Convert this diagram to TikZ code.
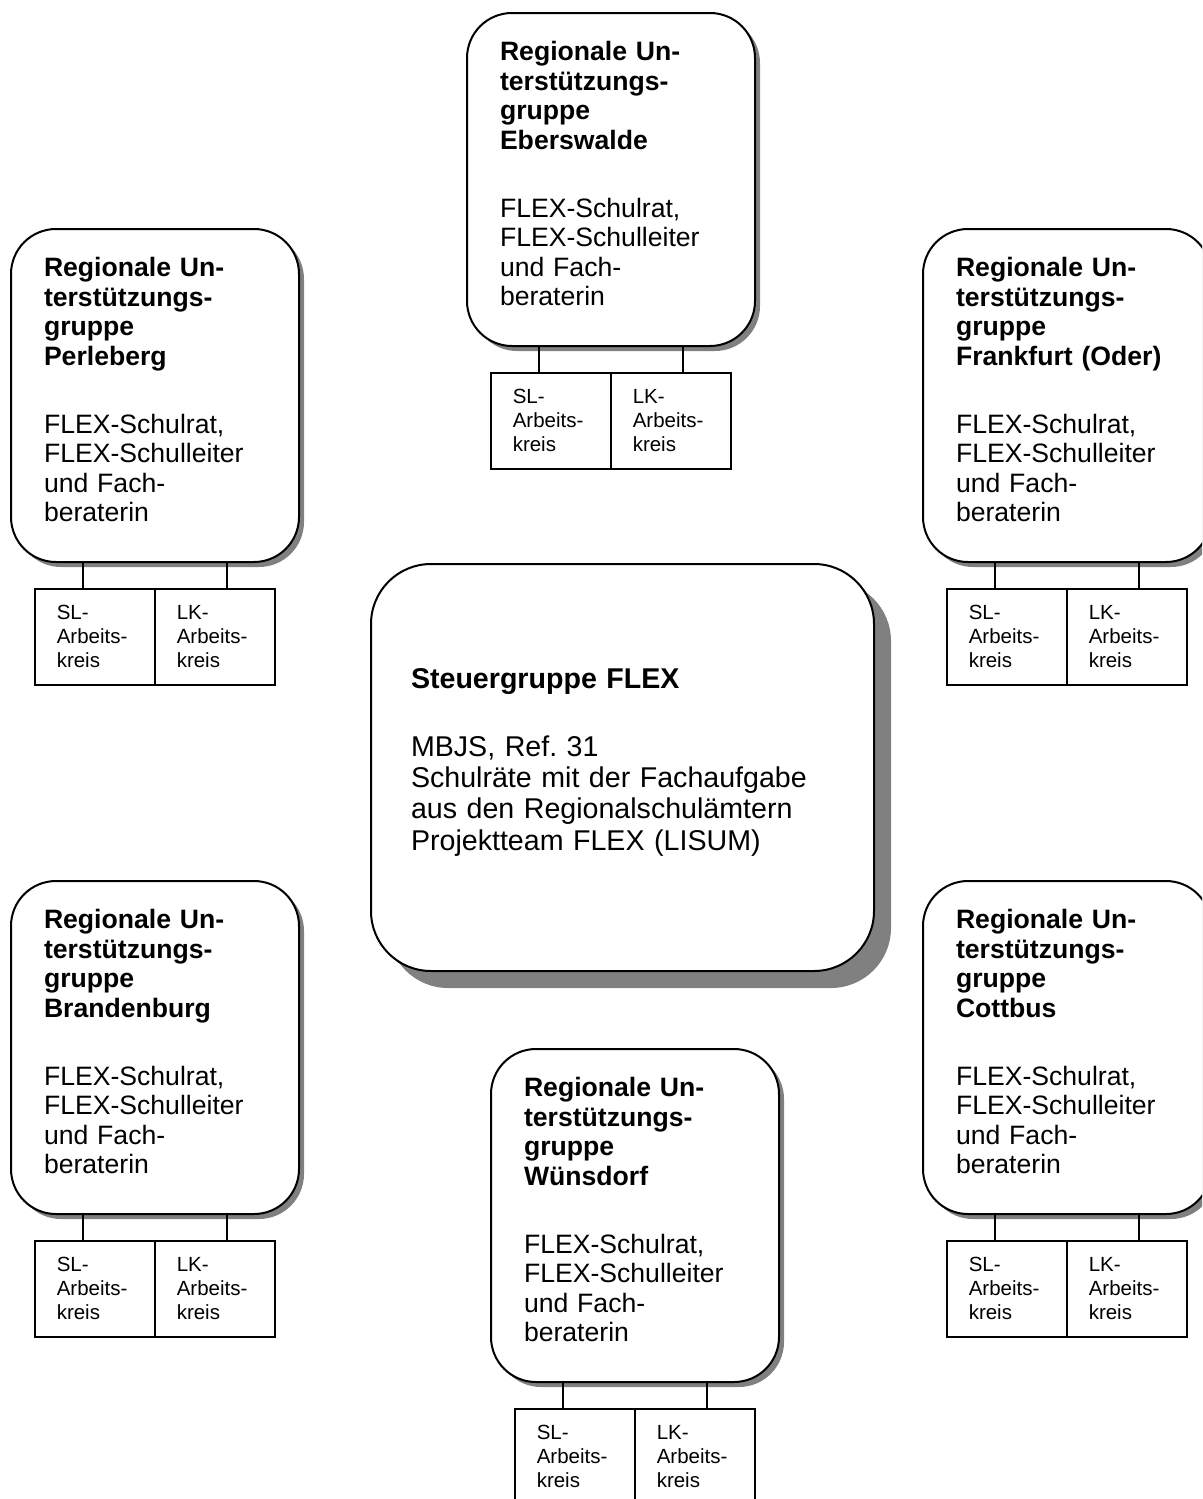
\documentclass[tikz,border=0pt]{standalone}
\usepackage{fontspec}
\setmainfont{Liberation Sans}
\usetikzlibrary{shadows}

\tikzset{
  regbox/.style={draw, line width=2pt, fill=white, rounded corners=45pt,
    anchor=north west, minimum width=288pt, minimum height=333pt,
    inner xsep=33pt, inner ysep=0pt, text width=222pt, align=left,
    font=\fontsize{26.6}{29.5}\selectfont,
    drop shadow={shadow xshift=5pt, shadow yshift=-5pt, fill=black!50, opacity=1}},
  mainbox/.style={regbox, rounded corners=60pt,
    minimum width=503pt, minimum height=407pt,
    inner xsep=40pt, text width=423pt,
    font=\fontsize{28.6}{31.3}\selectfont,
    drop shadow={shadow xshift=17pt, shadow yshift=-17pt, fill=black!50, opacity=1}},
  akbox/.style={draw, line width=1.5pt, fill=white, anchor=north west,
    minimum width=120pt, minimum height=96pt,
    inner xsep=22pt, inner ysep=0pt, text width=76pt, align=left,
    font=\fontsize{20.5}{24}\selectfont},
  link/.style={line width=1.5pt}
}

\begin{document}
\frenchspacing
\begin{tikzpicture}[x=1pt, y=-1pt]
\useasboundingbox (0,0) rectangle (1202,1499);
\clip (0,0) rectangle (1202,1499);

% Steuergruppe in der Mitte
\node[mainbox] (steuer) at (370,563)
  {\textbf{Steuergruppe FLEX}\\[36pt]
   MBJS, Ref. 31\\
   Schulräte mit der Fachaufgabe\\
   aus den Regionalschulämtern\\
   Projektteam FLEX (LISUM)\par\vspace{10pt}\hrule height 0pt};

% regionale Unterstuetzungsgruppen mit Arbeitskreisen
\foreach \id/\x/\y/\city in {ebw/466/12/Eberswalde, prl/10/228/Perleberg,
    ffo/922/228/{Frankfurt (Oder)}, brb/10/880/Brandenburg,
    cbs/922/880/Cottbus, wdf/490/1048/Wünsdorf}{
  \node[regbox] (\id) at (\x,\y)
    {{\bfseries Regionale Un-\\terstützungs-\\gruppe\\\city}\\[38.5pt]
     FLEX-Schulrat,\\FLEX-Schulleiter\\und Fach-\\beraterin\par\vspace{12pt}\hrule height 0pt};
  \node[akbox] (\id-sl) at (\x+24,\y+360) {SL-\\Arbeits-\\kreis};
  \node[akbox] (\id-lk) at (\x+144,\y+360) {LK-\\Arbeits-\\kreis};
  \draw[link] ([xshift=-12pt]\id-sl.north) -- ([xshift=-12pt]\id-sl.north |- \id.south);
  \draw[link] ([xshift=12pt]\id-lk.north) -- ([xshift=12pt]\id-lk.north |- \id.south);
}
\end{tikzpicture}
\end{document}
